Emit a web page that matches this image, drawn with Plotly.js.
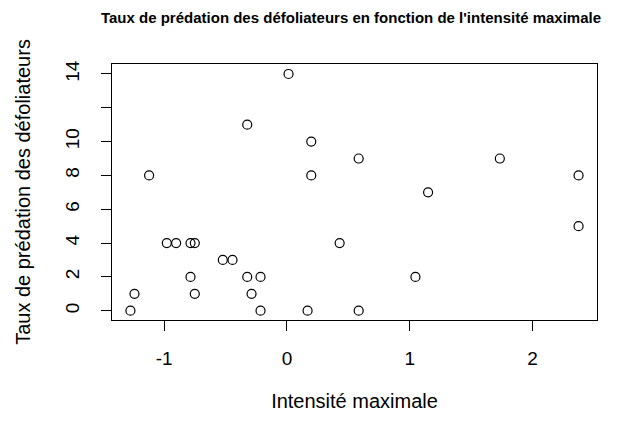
<!DOCTYPE html>
<html>
<head>
<meta charset="utf-8">
<script src="https://cdn.plot.ly/plotly-3.0.1.min.js"></script>
<style>html,body{margin:0;padding:0;background:#fff;}#chart{width:629px;height:421px;}</style>
</head>
<body>
<div id="chart"></div>
<script>
const intensite = [-1.274, -1.241, -1.122, -0.978, -0.902, -0.785, -0.750, -0.785, -0.750, -0.522, -0.443, -0.323, -0.288, -0.215, -0.215, -0.323, 0.013, 0.168, 0.198, 0.198, 0.429, 0.584, 0.584, 1.149, 1.046, 1.733, 2.374, 2.374];
const predation = [0, 1, 8, 4, 4, 4, 4, 2, 1, 3, 3, 2, 1, 2, 0, 11, 14, 0, 10, 8, 4, 9, 0, 7, 2, 9, 8, 5];
const yTickVals = [0, 2, 4, 6, 8, 10, 12, 14];
const yTickText = ["0", "2", "4", "6", "8", "10", "", "14"];
const xTickVals = [-1, 0, 1, 2];
const xTickText = ["-1", "0", "1", "2"];

const font = "Liberation Sans, Arial, sans-serif";
Plotly.newPlot("chart", [{
  x: intensite, y: predation, type: "scatter", mode: "markers",
  marker: {symbol: "circle-open", size: 9, color: "#000", line: {width: 1.2, color: "#000"}},
  hoverinfo: "skip"
}], {
  width: 629, height: 421,
  margin: {l: 112, r: 32, t: 64, b: 101},
  paper_bgcolor: "#fff", plot_bgcolor: "#fff",
  showlegend: false,
  font: {family: font, color: "#000"},
  title: {text: "<b>Taux de prédation des défoliateurs en fonction de l'intensité maximale</b>",
          font: {family: font, size: 15, color: "#000"}, x: 351/629, xanchor: "center", y: 1 - 18/421, yanchor: "middle"},
  xaxis: {range: [-1.424, 2.524], tickvals: xTickVals, ticktext: xTickText,
          showgrid: false, zeroline: false, showline: true, mirror: true, linecolor: "#000", linewidth: 1,
          ticks: "outside", ticklen: 10, tickcolor: "#000", tickwidth: 1,
          tickfont: {family: font, size: 19, color: "#000"}, ticklabelstandoff: 11,
          title: {text: "Intensité maximale", font: {family: font, size: 20, color: "#000"}, standoff: 26}},
  yaxis: {range: [-0.55, 14.59], tickvals: yTickVals, ticktext: yTickText, tickangle: -90,
          showgrid: false, zeroline: false, showline: true, mirror: true, linecolor: "#000", linewidth: 1,
          ticks: "outside", ticklen: 10, tickcolor: "#000", tickwidth: 1,
          tickfont: {family: font, size: 19, color: "#000"}, ticklabelstandoff: 14,
          title: {text: "Taux de prédation des défoliateurs", font: {family: font, size: 20, color: "#000"}, standoff: 26}}
}, {displayModeBar: false, staticPlot: true});
</script>
</body>
</html>
